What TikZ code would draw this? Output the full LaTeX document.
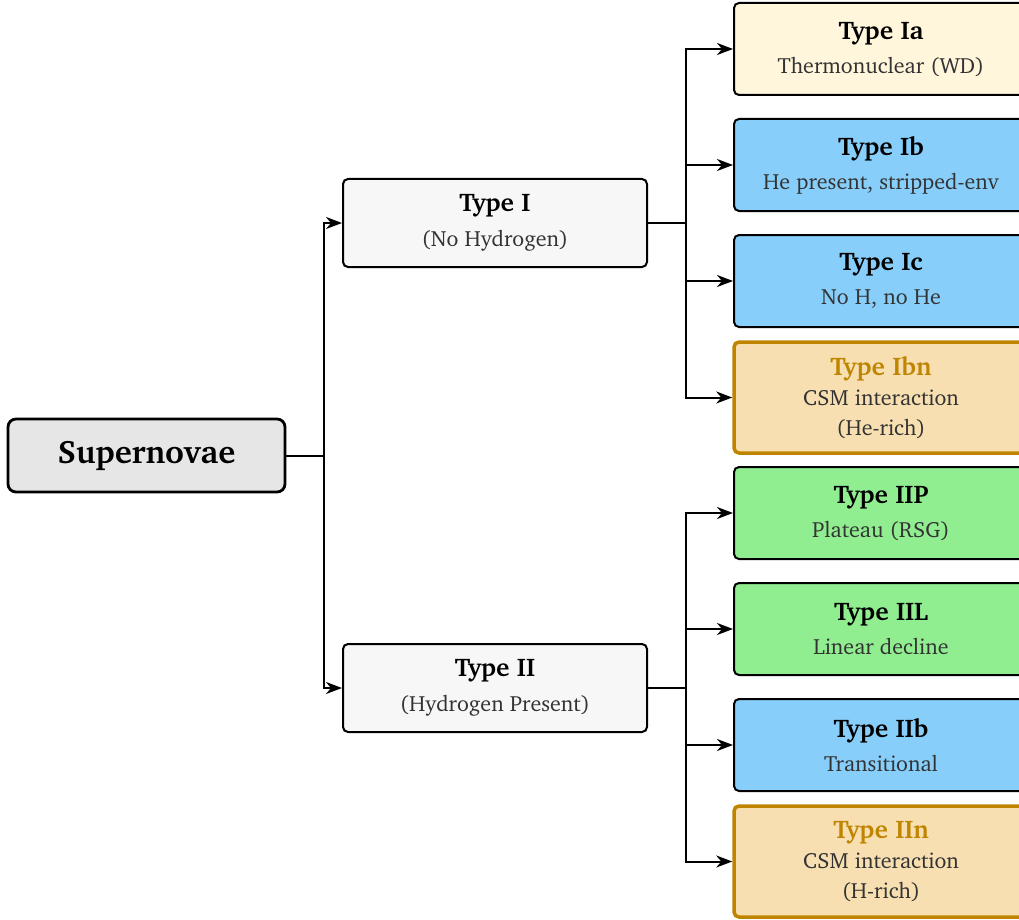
\documentclass[tikz,border=0pt]{standalone}
\usepackage[T1]{fontenc}
\usepackage{charter}
\usetikzlibrary{arrows.meta}
\definecolor{cornsilk}{HTML}{FFF6DC}
\definecolor{skyb}{HTML}{87CEFA}
\definecolor{lgreen}{HTML}{90EE90}
\definecolor{wheatc}{HTML}{F7DFB1}
\definecolor{goldb}{HTML}{BF8500}
\definecolor{subg}{HTML}{333333}
\definecolor{rootg}{HTML}{E6E6E6}
\definecolor{midg}{HTML}{F7F7F7}
\tikzset{
  leaf/.style={draw=black, line width=2pt, rounded corners=5pt, minimum width=294pt, minimum height=92pt, align=center, inner sep=0pt, font=\fontsize{22}{34}\selectfont},
  csm/.style={leaf, draw=goldb, line width=3.5pt, minimum height=111pt, font=\fontsize{22}{30}\selectfont},
  mid/.style={draw=black, line width=2pt, rounded corners=5pt, fill=midg, minimum width=304pt, minimum height=88pt, align=center, inner sep=0pt, font=\fontsize{22}{35}\selectfont},
  root/.style={draw=black, line width=2.8pt, rounded corners=8pt, fill=rootg, minimum width=277pt, minimum height=73pt, inner sep=0pt, font=\fontsize{32.5}{36}\selectfont\bfseries},
  conn/.style={line width=2pt, line join=miter},
  arr/.style={conn, -{Stealth[length=16pt,width=12pt,inset=5pt]}},
}
\newcommand{\ttl}[1]{{\fontsize{25.5}{34}\selectfont\bfseries #1}}
\newcommand{\ctl}[1]{{\fontsize{25.5}{30}\selectfont\bfseries\color{goldb}#1}}
\newcommand{\sub}[1]{{\color{subg}#1}}
\begin{document}
\begin{tikzpicture}[x=1pt,y=-1pt]
\useasboundingbox (0,0) rectangle (1019,920);
\clip (0,0) rectangle (1019,920);
% root
\node[root] (sn) at (146.5,455.5) {Supernovae};
% middle
\node[mid] (t1) at (495,223) {\ttl{Type I}\\\sub{(No Hydrogen)}};
\node[mid] (t2) at (495,688) {\ttl{Type II}\\\sub{(Hydrogen Present)}};
% leaves
\node[leaf, fill=cornsilk] (ia) at (881,49) {\ttl{Type Ia}\\\sub{Thermonuclear (WD)}};
\node[leaf, fill=skyb] (ib) at (881,165) {\ttl{Type Ib}\\\sub{He present, stripped-env}};
\node[leaf, fill=skyb] (ic) at (881,281) {\ttl{Type Ic}\\\sub{No H, no He}};
\node[csm, fill=wheatc] (ibn) at (881,397.5) {\ctl{Type Ibn}\\\sub{CSM interaction}\\\sub{(He-rich)}};
\node[leaf, fill=lgreen] (iip) at (881,513) {\ttl{Type IIP}\\\sub{Plateau (RSG)}};
\node[leaf, fill=lgreen] (iil) at (881,629) {\ttl{Type IIL}\\\sub{Linear decline}};
\node[leaf, fill=skyb] (iib) at (881,745) {\ttl{Type IIb}\\\sub{Transitional}};
\node[csm, fill=wheatc] (iin) at (881,861.5) {\ctl{Type IIn}\\\sub{CSM interaction}\\\sub{(H-rich)}};
% junctions
\coordinate (j0) at (324,455.5);
\coordinate (j1) at (686,223);
\coordinate (j2) at (686,688);
% connectors
\draw[conn] (sn.east) -- (j0);
\draw[arr] (j0) |- (t1.west);
\draw[arr] (j0) |- (t2.west);
\draw[conn] (t1.east) -- (j1);
\draw[arr] (j1) |- (ia.west);
\draw[arr] (j1) |- (ib.west);
\draw[arr] (j1) |- (ic.west);
\draw[arr] (j1) |- (ibn.west);
\draw[conn] (t2.east) -- (j2);
\draw[arr] (j2) |- (iip.west);
\draw[arr] (j2) |- (iil.west);
\draw[arr] (j2) |- (iib.west);
\draw[arr] (j2) |- (iin.west);
\end{tikzpicture}
\end{document}
